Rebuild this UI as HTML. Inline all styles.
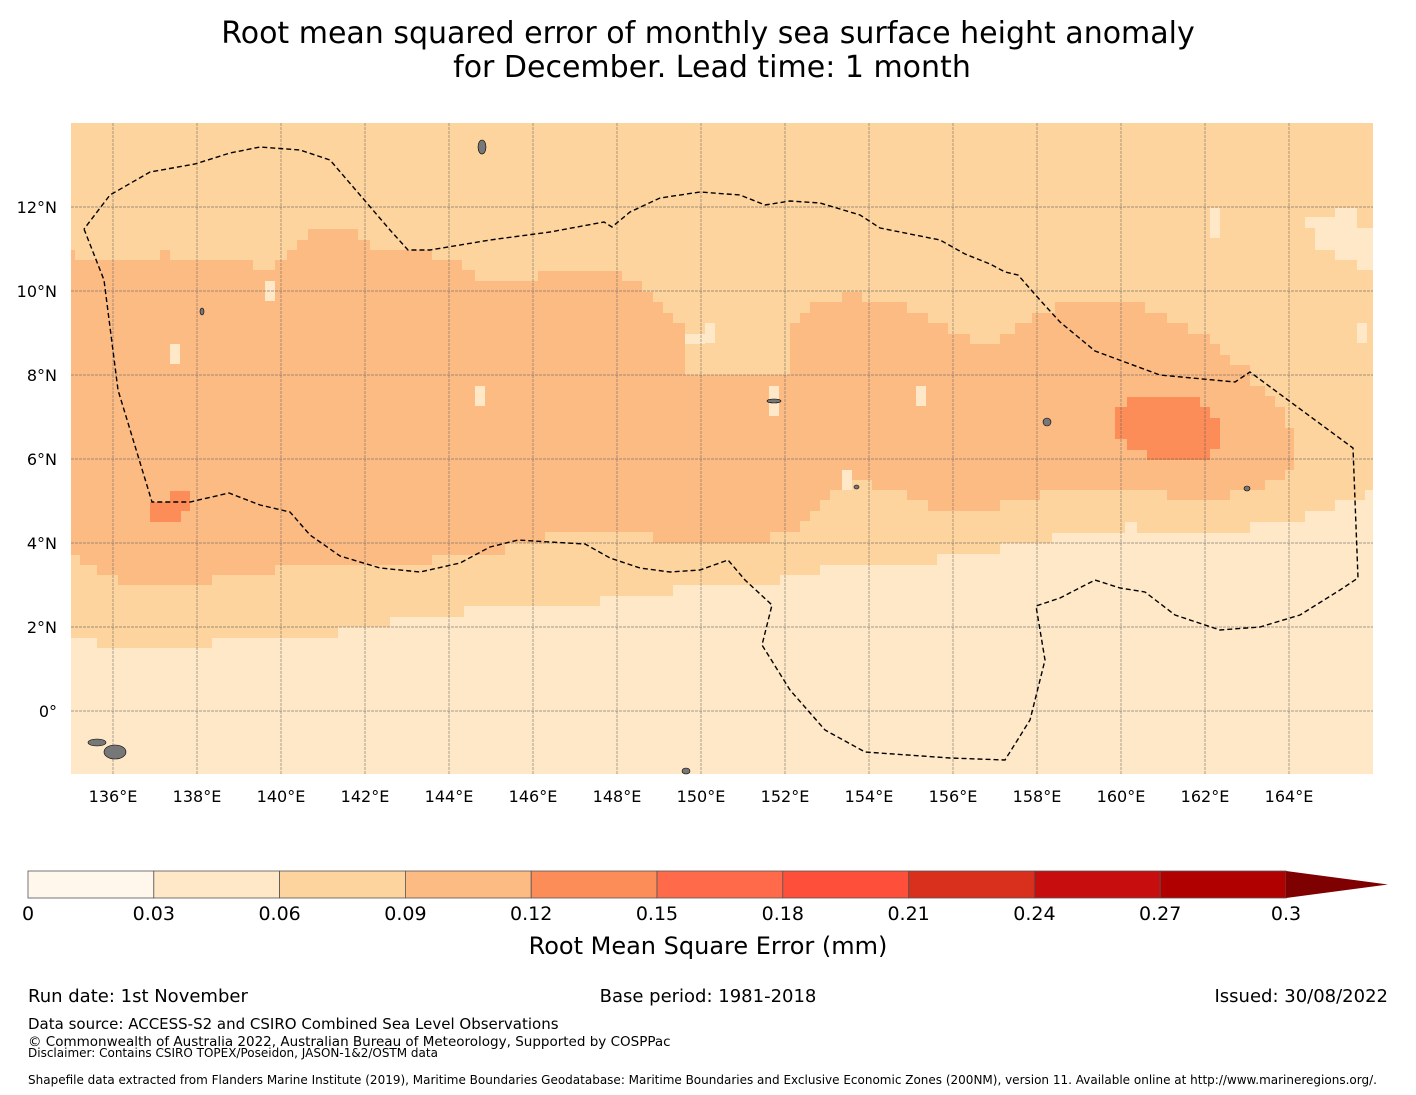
<!DOCTYPE html>
<html><head><meta charset="utf-8"><style>
body{margin:0;background:#fff;width:1416px;height:1095px;overflow:hidden;font-family:"Liberation Sans","DejaVu Sans",sans-serif}
svg{position:absolute;left:0;top:0}
</style></head><body>
<svg id="s" width="1416" height="1095" xmlns="http://www.w3.org/2000/svg">
<text x="708" y="43" text-anchor="middle" font-size="30" fill="#000" font-family="DejaVu Sans,sans-serif">Root mean squared error of monthly sea surface height anomaly</text>
<text x="712" y="77" text-anchor="middle" font-size="30" fill="#000" font-family="DejaVu Sans,sans-serif">for December. Lead time: 1 month</text>
<g id="map"></g>
<g id="cb"></g>
<text x="708" y="954" text-anchor="middle" font-size="24" font-family="DejaVu Sans,sans-serif">Root Mean Square Error (mm)</text>
<g font-family="DejaVu Sans,sans-serif" font-size="18">
<text x="28" y="1002">Run date: 1st November</text>
<text x="708" y="1002" text-anchor="middle">Base period: 1981-2018</text>
<text x="1388" y="1002" text-anchor="end">Issued: 30/08/2022</text>
<text x="28" y="1029" font-size="15">Data source: ACCESS-S2 and CSIRO Combined Sea Level Observations</text>
<text x="28" y="1046" font-size="13.5">© Commonwealth of Australia 2022, Australian Bureau of Meteorology, Supported by COSPPac</text>
<text x="28" y="1057" font-size="12">Disclaimer: Contains CSIRO TOPEX/Poseidon, JASON-1&amp;2/OSTM data</text>
<text x="28" y="1084" font-size="12">Shapefile data extracted from Flanders Marine Institute (2019), Maritime Boundaries Geodatabase: Maritime Boundaries and Exclusive Economic Zones (200NM), version 11. Available online at http://www.marineregions.org/.</text>
</g>
</svg>
<script>
const NS="http://www.w3.org/2000/svg";
const lonTicks=[136,138,140,142,144,146,148,150,152,154,156,158,160,162,164];
const latTicks=[0,2,4,6,8,10,12];
const cbTicks=["0","0.03","0.06","0.09","0.12","0.15","0.18","0.21","0.24","0.27","0.3"];
const cbColors=["#fff7ec","#fee8c8","#fdd49e","#fdbb84","#fc8d59","#fe6a4a","#fe4f3a","#d9301e","#c70d0d","#b00000"];
const bandMid=[[71,250],[75,250],[75,260],[160,260],[160,250],[170,250],[170,260],[253,260],[253,270],[275,270],[275,260],[287,260],[287,250],[297,250],[297,240],[308,240],[308,229],[358,229],[358,240],[370,240],[370,250],[432,250],[432,260],[462,260],[462,270],[475,270],[475,281],[538,281],[538,271],[622,271],[622,281],[642,281],[642,292],[653,292],[653,302],[663,302],[663,313],[673,313],[673,323],[685,323],[685,375],[790,375],[790,323],[800,323],[800,313],[810,313],[810,302],[842,302],[842,292],[862,292],[862,302],[907,302],[907,313],[928,313],[928,323],[948,323],[948,334],[970,334],[970,344],[1000,344],[1000,334],[1015,334],[1015,323],[1032,323],[1032,313],[1055,313],[1055,302],[1145,302],[1145,313],[1167,313],[1167,323],[1188,323],[1188,334],[1210,334],[1210,344],[1220,344],[1220,355],[1230,355],[1230,365],[1250,365],[1250,386],[1265,386],[1265,396],[1275,396],[1275,407],[1285,407],[1285,428],[1294,428],[1294,470],[1285,470],[1285,480],[1265,480],[1265,490],[1230,490],[1230,500],[1167,500],[1167,490],[1040,490],[1040,500],[1000,500],[1000,511],[928,511],[928,500],[907,500],[907,490],[872,490],[872,480],[842,480],[842,490],[830,490],[830,500],[820,500],[820,511],[810,511],[810,521],[800,521],[800,532],[790,532],[790,532],[770,532],[770,543],[653,543],[653,532],[545,532],[545,543],[505,543],[505,555],[432,555],[432,565],[275,565],[275,575],[212,575],[212,585],[118,585],[118,575],[97,575],[97,565],[80,565],[80,555],[71,555]];
const bandLow=[[71,638],[97,638],[97,648],[212,648],[212,638],[338,638],[338,627],[390,627],[390,617],[464,617],[464,606],[600,606],[600,596],[673,596],[673,585],[780,585],[780,575],[820,575],[820,565],[937,565],[937,554],[1000,554],[1000,543],[1052,543],[1052,533],[1125,533],[1125,522],[1137,522],[1137,533],[1250,533],[1250,522],[1305,522],[1305,511],[1335,511],[1335,500],[1365,500],[1365,490],[1373,490],[1373,774],[71,774]];
const bandTopRight=[[1315,228],[1305,228],[1305,217],[1335,217],[1335,208],[1357,208],[1357,228],[1373,228],[1373,270],[1357,270],[1357,260],[1335,260],[1335,250],[1315,250]];
const bandHigh1=[[1115,407],[1127,407],[1127,397],[1200,397],[1200,407],[1210,407],[1210,418],[1220,418],[1220,449],[1210,449],[1210,460],[1147,460],[1147,450],[1127,450],[1127,439],[1115,439]];
const bandHigh2=[[150,502],[170,502],[170,491],[190,491],[190,511],[181,511],[181,522],[150,522]];
const lightSpots=[[265,281,10,20],[170,344,10,20],[475,386,10,20],[685,334,20,10],[705,323,10,20],[769,386,10,30],[916,386,10,20],[842,470,10,20],[1210,208,10,30],[1357,323,10,20]];
const eez=[[84,229],[104,280],[118,390],[152,502],[190,502],[229,493],[260,505],[290,512],[310,535],[340,556],[380,568],[420,572],[460,563],[490,547],[518,540],[550,542],[585,544],[610,558],[640,568],[670,572],[700,570],[728,560],[745,580],[772,605],[762,645],[790,690],[825,730],[865,752],[950,758],[1005,760],[1030,720],[1045,660],[1036,606],[1060,598],[1095,580],[1120,588],[1145,592],[1175,615],[1220,630],[1260,627],[1300,615],[1340,590],[1358,578],[1353,448],[1250,372],[1235,382],[1160,375],[1095,351],[1060,322],[1040,300],[1018,275],[1005,272],[990,264],[965,254],[940,240],[880,228],[860,215],[820,203],[790,201],[765,205],[740,195],[700,192],[660,198],[630,212],[612,227],[604,222],[550,232],[490,240],[430,250],[408,250],[390,230],[330,160],[300,150],[260,147],[230,153],[195,164],[150,172],[110,195],[84,229]];
const X0=71,X1=1373,Y0=123,Y1=774;
const xLon=lon=>71+(lon-135)*42;
const yLat=lat=>711-lat*42;
const px2lon=x=>135+(x-71)/42, px2lat=y=>(711-y)/42;
const toLL=a=>a.map(p=>[px2lon(p[0]),px2lat(p[1])]);
const pts=a=>toLL(a).map(p=>xLon(p[0]).toFixed(1)+","+yLat(p[1]).toFixed(1)).join(" ");
const map=document.getElementById("map");
function el(t,at,parent){const e=document.createElementNS(NS,t);for(const k in at)e.setAttribute(k,at[k]);(parent||map).appendChild(e);return e;}
let e;
e=el("rect",{x:X0,y:Y0,width:X1-X0,height:Y1-Y0,fill:cbColors[2]});


e=el("polygon",{points:pts(bandMid),fill:cbColors[3]});


e=el("polygon",{points:pts(bandLow),fill:cbColors[1]});


e=el("polygon",{points:pts(bandTopRight),fill:cbColors[1]});


e=el("polygon",{points:pts(bandHigh1),fill:cbColors[4]});


e=el("polygon",{points:pts(bandHigh2),fill:cbColors[4]});


lightSpots.forEach(s=>{e=el("rect",{x:s[0],y:s[1],width:s[2],height:s[3],fill:"#fee8c8"});

});
lonTicks.forEach(l=>{e=el("line",{x1:xLon(l),x2:xLon(l),y1:Y0,y2:Y1,stroke:"#555",'stroke-width':0.7,'stroke-dasharray':"3,1",opacity:0.7});


e=el("text",{x:xLon(l),y:802,'text-anchor':"middle",'font-size':16,'font-family':"DejaVu Sans,sans-serif"});e.textContent=l+"°E";

});
latTicks.forEach(l=>{e=el("line",{x1:X0,x2:X1,y1:yLat(l),y2:yLat(l),stroke:"#555",'stroke-width':0.7,'stroke-dasharray':"3,1",opacity:0.7});


e=el("text",{x:57,y:yLat(l)+6,'text-anchor':"end",'font-size':16,'font-family':"DejaVu Sans,sans-serif"});e.textContent=l===0?"0°":l+"°N";

});
const islands=[[478,140,8,14],[200,308,4,7],[88,739,18,7],[104,745,22,14],[682,768,8,6],[1043,418,8,8],[1244,486,6,5],[767,399,14,4],[854,485,5,4]];
islands.forEach(s=>{e=el("ellipse",{cx:s[0]+s[2]/2,cy:s[1]+s[3]/2,rx:s[2]/2,ry:s[3]/2,fill:"#777",stroke:"#000",'stroke-width':0.6});

});
e=el("polyline",{points:pts(eez),fill:"none",stroke:"#000",'stroke-width':1.4,'stroke-dasharray':"5,3"});


const cb=document.getElementById("cb");
const cbX=v=>28+v/0.3*1258;
cbColors.forEach((c,i)=>{e=el("rect",{x:cbX(i*0.03),y:871,width:1258/10,height:27,fill:c,stroke:"#555",'stroke-width':0.8},cb);

});
e=el("polygon",{points:"1286,871 1388,884.5 1286,898",fill:"#7f0000"},cb);


cbTicks.forEach((t,i)=>{e=el("text",{x:cbX(i*0.03),y:920,'text-anchor':"middle",'font-size':19,'font-family':"DejaVu Sans,sans-serif"},cb);e.textContent=t;

});
</script>
</body></html>
